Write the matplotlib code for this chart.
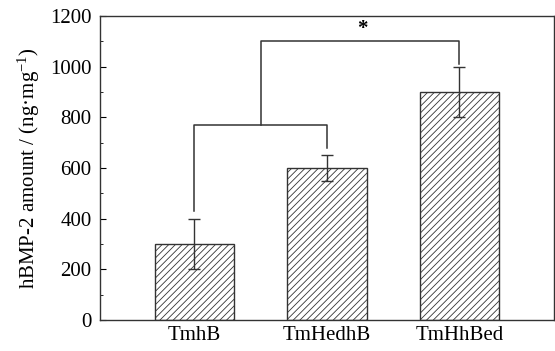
import matplotlib.pyplot as plt
import numpy as np
from matplotlib.ticker import MultipleLocator

plt.rcParams['font.family'] = ['Liberation Serif', 'DejaVu Serif']
plt.rcParams['mathtext.fontset'] = 'custom'
plt.rcParams['mathtext.rm'] = 'Liberation Serif'
plt.rcParams['mathtext.it'] = 'Liberation Serif:italic'
plt.rcParams['hatch.linewidth'] = 0.6

groups = ['TmhB', 'TmHedhB', 'TmHhBed']
amount = [300, 600, 900]
err = [100, 50, 100]

fig = plt.figure(figsize=(5.55, 3.51), dpi=100)
ax = fig.add_axes([0.18, 0.088, 0.818, 0.866])

x = np.arange(len(groups))
ax.bar(x, amount, width=0.6, color='white', edgecolor='#333333', linewidth=1.0, hatch='/////')
ax.errorbar(x, amount, yerr=err, fmt='none', ecolor='#333333', elinewidth=1.0, capsize=4, capthick=1.0)

# significance brackets
lc = '#333333'
ax.plot([0, 0, 1, 1], [430, 770, 770, 680], color=lc, lw=1.1)
ax.plot([0.5, 0.5, 2, 2], [770, 1100, 1100, 1010], color=lc, lw=1.1)
ax.text(1.27, 1110, '*', ha='center', va='bottom', fontsize=15, fontweight='bold')

ax.set_xlim(-0.713, 2.713)
ax.set_ylim(0, 1200)
ax.set_xticks(x)
ax.set_xticklabels(groups, fontsize=15)
ax.tick_params(axis='x', length=0, pad=4)
ax.yaxis.set_major_locator(MultipleLocator(200))
ax.yaxis.set_minor_locator(MultipleLocator(100))
ax.tick_params(axis='y', which='major', direction='in', length=4, labelsize=15, pad=6)
ax.tick_params(axis='y', which='minor', direction='in', length=2)
ax.set_ylabel('hBMP-2 amount / (ng\u00b7mg$^{\\mathrm{-1}}$)', fontsize=15, labelpad=6)
for s in ax.spines.values():
    s.set_linewidth(1.0)
    s.set_color('#333333')

fig.savefig('out.png', dpi=100)
